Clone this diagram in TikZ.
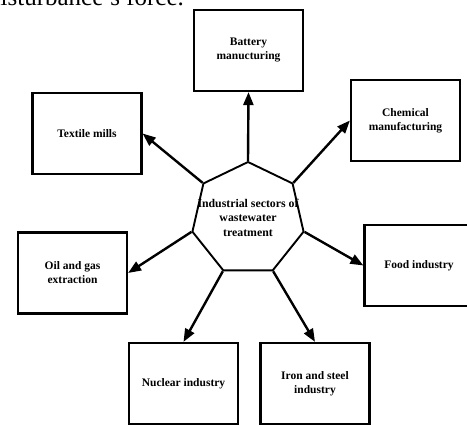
\documentclass[tikz,border=0pt]{standalone}
\usepackage{fontspec}
\setmainfont{Liberation Serif}
\usetikzlibrary{shapes.geometric,shadows,arrows.meta}

\tikzset{
  sector/.style={draw, line width=2.2pt, fill=white, minimum width=109pt, minimum height=81pt,
    align=center, font=\fontsize{11.5}{14}\selectfont\bfseries,
    drop shadow={shadow xshift=0.8pt, shadow yshift=-1.2pt, opacity=0.35}},
  hub/.style={draw, line width=1.9pt, regular polygon, regular polygon sides=7,
    minimum size=114pt, inner sep=0pt},
  feed/.style={line width=2.4pt, -{Triangle[length=13pt,width=10pt]}}
}

\begin{document}
\begin{tikzpicture}[x=1pt,y=-1pt]
        \useasboundingbox (0,0) rectangle (467,425);
        \clip (0,0) rectangle (467,425);

        % text of the page above, cut by the frame
        \node[anchor=base west, inner sep=0pt, font=\fontsize{25}{30}\selectfont] (pagetext) at (-12,5.5) {disturbance's force.};

        \node[hub] (hub) at (248,219) {};
        \node[align=center, font=\fontsize{11.8}{14.5}\selectfont\bfseries] (hublabel) at (248,217.5)
          {Industrial sectors of\\wastewater\\treatment};

        \node[sector] (battery) at (248.5,50.5) {Battery\\manucturing};
        \node[sector] (chemical) at (405.5,120.5) {Chemical\\manufacturing};
        \node[sector] (textile) at (87,133.5) {Textile mills};
        \node[sector] (oil) at (72.5,273) {Oil and gas\\extraction};
        \node[sector] (food) at (419,265.5) {Food industry};
        \node[sector] (nuclear) at (183.5,383.5) {Nuclear industry};
        \node[sector] (iron) at (315,383.5) {Iron and steel\\industry};

        \draw[feed] (hub.corner 1) -- (battery.south);
        \draw[feed] (hub.corner 7) -- (chemical.west);
        \draw[feed] (hub.corner 2) -- (textile.east);
        \draw[feed] (hub.corner 3) -- (oil.east);
        \draw[feed] (hub.corner 6) -- (food.west);
        \draw[feed] (hub.corner 4) -- (nuclear.north);
        \draw[feed] (hub.corner 5) -- (iron.north);
\end{tikzpicture}
\end{document}
